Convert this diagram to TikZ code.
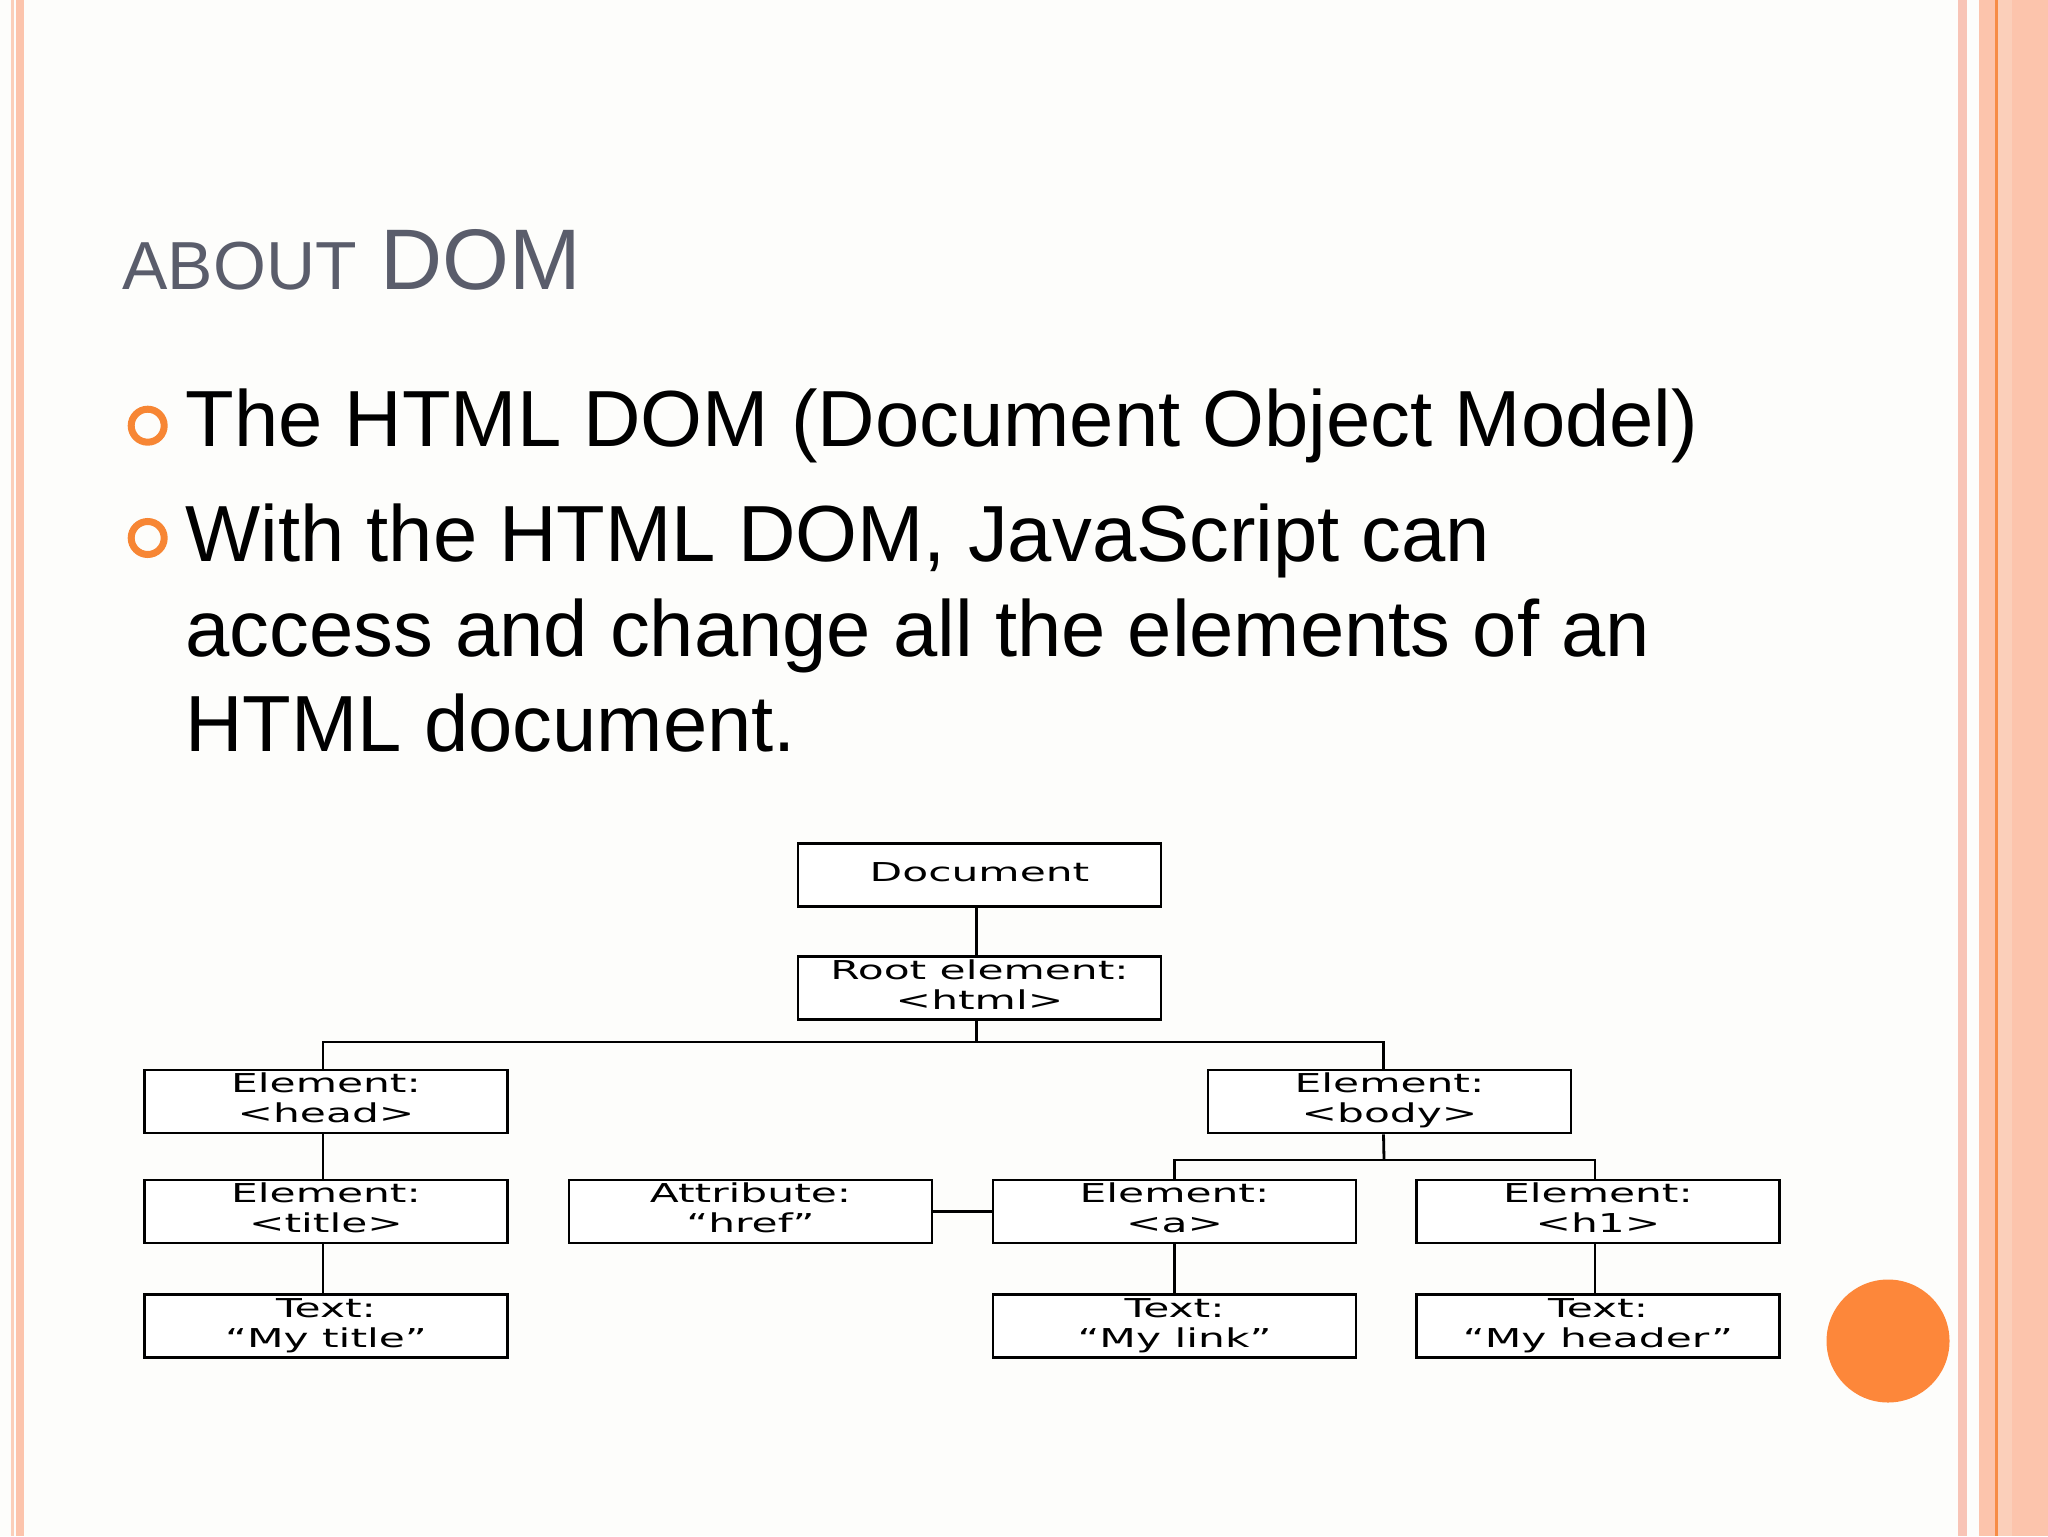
\documentclass[tikz,border=0pt]{standalone}
\usepackage{fontspec}
\usepackage{graphicx}
\setmainfont{Liberation Sans}
\newfontfamily\boxfont{DejaVu Sans}
\definecolor{titlegray}{RGB}{90,93,107}
\definecolor{bulorange}{RGB}{247,134,52}
\definecolor{dotorange}{RGB}{253,135,58}
\definecolor{salmon}{RGB}{252,196,172}
\definecolor{salmonlt}{RGB}{251,207,186}
\definecolor{pinkish}{RGB}{248,196,182}
\definecolor{edgeorange}{RGB}{247,140,70}
\definecolor{bgcol}{RGB}{253,253,251}
\newcommand\bxt[2]{\scalebox{1.63}[1]{\begin{tabular}{@{}c@{}}#1\\#2\end{tabular}}}
\newcommand\bxo[1]{\scalebox{1.63}[1]{\begin{tabular}{@{}c@{}}#1\end{tabular}}}
\tikzset{
  dbox/.style={draw, line width=1.4pt, minimum width=181.5pt, minimum height=31.5pt,
    inner sep=0pt, fill=white, font=\boxfont\fontsize{13pt}{15pt}\selectfont},
  conn/.style={line width=1.4pt},
  para/.style={anchor=base west, inner sep=0pt, font=\fontsize{39.8pt}{48pt}\selectfont},
  bullet/.style={draw=bulorange, line width=3.5pt}
}
\begin{document}
\begin{tikzpicture}[x=0.5pt,y=-0.5pt]
\useasboundingbox (0,0) rectangle (2048,1536);
\fill[bgcol] (0,0) rectangle (2048,1536);
% left border
\fill[salmonlt] (10.5,0) rectangle (13.5,1536);
\fill[salmon] (16,0) rectangle (24,1536);
% right border
\fill[pinkish] (1958,0) rectangle (1967,1536);
\fill[salmon] (1979,0) rectangle (2048,1536);
\fill[salmonlt] (1997,0) rectangle (2012,1536);
\fill[edgeorange] (1995,0) rectangle (1997.5,1536);

% heading
\node[anchor=base west, inner sep=0pt, text=titlegray] (ttl) at (122,289)
  {\fontsize{34pt}{40pt}\selectfont ABOUT\hspace{2.5pt} \fontsize{43pt}{50pt}\selectfont DOM};

% bullets
\draw[bullet] (147.7,425.7) circle (8.25pt);
\draw[bullet] (147.7,538) circle (8.25pt);
\node[para] (b1) at (185,446) {The HTML DOM (Document Object Model)};
\node[para] (b2a) at (185,561) {With the HTML DOM, JavaScript can};
\node[para] (b2b) at (185,656) {access and change all the elements of an};
\node[para] (b2c) at (185,751) {HTML document.};

% DOM tree
\node[dbox] (ndoc) at (979.5,875) {\bxo{Document}};
\node[dbox] (nroot) at (979.5,988) {\bxt{Root element:}{<html>}};
\node[dbox] (nhead) at (326,1101.5) {\bxt{Element:}{<head>}};
\node[dbox] (nbody) at (1389.5,1101.5) {\bxt{Element:}{<body>}};
\node[dbox] (ntitle) at (326,1211.5) {\bxt{Element:}{<title>}};
\node[dbox] (nattr) at (750.5,1211.5) {\bxt{Attribute:}{“href”}};
\node[dbox] (na) at (1174.5,1211.5) {\bxt{Element:}{<a>}};
\node[dbox] (nh1) at (1598,1211.5) {\bxt{Element:}{<h1>}};
\node[dbox] (ttitle) at (326,1326) {\bxt{Text:}{“My title”}};
\node[dbox] (tlink) at (1174.5,1326) {\bxt{Text:}{“My link”}};
\node[dbox] (theader) at (1598,1326) {\bxt{Text:}{“My header”}};

\coordinate (j1) at (976.5,1042);
\coordinate (j2) at (1384,1160);
\draw[conn] ([xshift=-1.5pt]ndoc.south) -- ([xshift=-1.5pt]nroot.north);
\draw[conn] ([xshift=-1.5pt]nroot.south) -- (j1);
\draw[conn] ([xshift=-1.5pt]nhead.north) |- (j1) -| ([xshift=-3pt]nbody.north);
\draw[conn] ([xshift=-1.5pt]nhead.south) -- ([xshift=-1.5pt]ntitle.north);
\draw[conn] ([xshift=-1.5pt]ntitle.south) -- ([xshift=-1.5pt]ttitle.north);
\draw[conn] ([xshift=-3pt]nbody.south) -- (j2);
\draw[conn] (na.north) |- (j2) -| ([xshift=-1.5pt]nh1.north);
\draw[conn] (nattr.east) -- (na.west);
\draw[conn] (na.south) -- (tlink.north);
\draw[conn] ([xshift=-1.5pt]nh1.south) -- ([xshift=-1.5pt]theader.north);

% decorative dot
\fill[dotorange] (1888,1341) circle (30.75pt);
\end{tikzpicture}
\end{document}
